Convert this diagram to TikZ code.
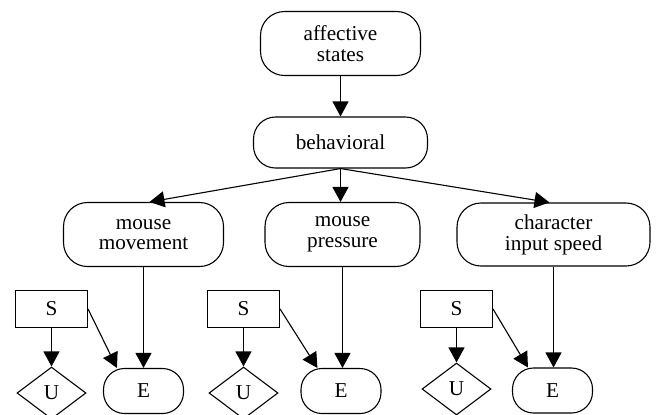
\documentclass[tikz,border=0pt]{standalone}
\usepackage{fontspec}
\setmainfont{Liberation Serif}
\usetikzlibrary{arrows.meta,shapes.geometric}
\begin{document}
\begin{tikzpicture}[x=0.5pt,y=-0.5pt,
  every node/.style={font=\fontsize{10.6}{10.4}\selectfont, align=center,
    inner sep=0pt, line width=0.55pt},
  pill/.style={draw, rounded corners=12pt},
  sbox/.style={draw, rectangle, minimum width=36pt, minimum height=18.5pt},
  ubox/.style={draw, diamond, aspect=1.3, minimum width=34.5pt, minimum height=26pt},
  ebox/.style={draw, rounded corners=10.5pt, minimum width=40pt, minimum height=22.5pt},
  link/.style={line width=0.55pt, -{Triangle[length=7.5pt,width=8pt]}}]
  % canvas
  \fill[white] (0,0) rectangle (656,414);
  \useasboundingbox (0,0) rectangle (656,414);

  % top of the hierarchy
  \node[pill, minimum width=80pt, minimum height=32pt] (aff) at (340.5,43.5) {affective\\states};
  \node[pill, rounded corners=11pt, minimum width=87pt, minimum height=25.5pt] (beh) at (340.5,142.5) {behavioral};

  % behavioural channels
  \node[pill, minimum width=80pt, minimum height=32pt] (mm) at (143.5,234.5) {mouse\\movement};
  \node[pill, minimum width=77.5pt, minimum height=32pt] (mp) at (342.5,234.5) {mouse\\pressure};
  \node[pill, minimum width=96.5pt, minimum height=31.5pt] (cis) at (553.5,234.5) {character\\input speed};

  % S / U / E groups
  \node[sbox] (s1) at (51.5,309) {S};
  \node[sbox] (s2) at (243.5,309) {S};
  \node[sbox] (s3) at (456.5,309) {S};

  \node[ubox] (u1) at (51.5,393) {U};
  \node[ubox] (u2) at (243.5,393) {U};
  \node[ubox] (u3) at (456.5,389) {U};

  \node[ebox] (e1) at (143.5,391) {E};
  \node[ebox] (e2) at (341,391) {E};
  \node[ebox] (e3) at (552.5,390.5) {E};

  % connectors
  \draw[link] (aff) -- (beh);
  \draw[link] (beh.south) -- ([xshift=3pt]mm.north);
  \draw[link] (beh.south) -- (mp.north -| beh.south);
  \draw[link] (beh.south) -- ([xshift=-2pt]cis.north);

  \draw[link] (mm.south) -- (e1.north -| mm.south);
  \draw[link] (mp.south) -- (e2.north -| mp.south);
  \draw[link] (cis.south) -- (e3.north -| cis.south);

  \draw[link] (s1) -- (u1);
  \draw[link] (s2) -- (u2);
  \draw[link] (s3) -- (u3);

  \draw[link] (s1.east) -- ([xshift=7pt]e1.north west);
  \draw[link] (s2.east) -- ([xshift=8.5pt]e2.north west);
  \draw[link] (s3.east) -- ([xshift=8pt]e3.north west);
\end{tikzpicture}
\end{document}
